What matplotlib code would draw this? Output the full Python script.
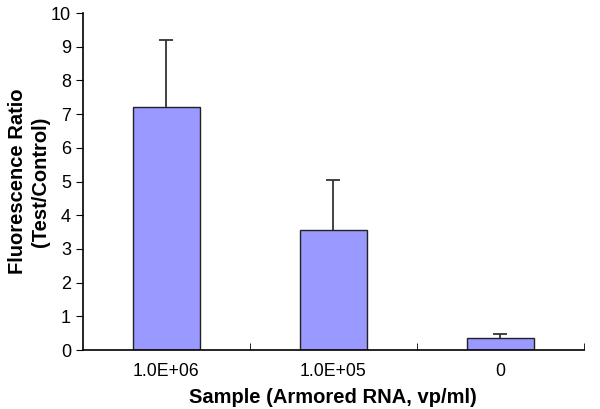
import numpy as np
import matplotlib.pyplot as plt

plt.rcParams['font.family'] = ['Liberation Sans', 'DejaVu Sans']

samples = ['1.0E+06', '1.0E+05', '0']
ratio = [7.22, 3.56, 0.37]
err_up = [1.98, 1.48, 0.11]

fig = plt.figure(figsize=(6, 4.09), dpi=100)
ax = fig.add_axes([0.138, 0.144, 0.835, 0.824])

x = np.arange(len(samples))
bars = ax.bar(x, ratio, width=0.4, color='#9999ff', edgecolor='#222222', linewidth=1,
              yerr=[[0] * len(err_up), err_up], capsize=5,
              error_kw=dict(ecolor='#333333', elinewidth=1.3, capthick=1.3))
# hide the lower caps (error bars go up only)
caps = bars.errorbar.lines[1]
caps[0].set_visible(False)

ax.set_xlim(-0.5, 2.5)
ax.set_ylim(0, 10)
ax.set_yticks(range(0, 11))
ax.set_xticks(x)
ax.set_xticklabels(samples, fontsize=12.7)
ax.tick_params(axis='x', length=0, pad=9)
ax.tick_params(axis='y', labelsize=13, length=5, direction='out')
ax.set_xticks([0.5, 1.5, 2.5], minor=True)
ax.tick_params(axis='x', which='minor', direction='in', length=5)

for s in ['top', 'right']:
    ax.spines[s].set_visible(False)
for s in ['left', 'bottom']:
    ax.spines[s].set_linewidth(1.2)

ax.set_xlabel('Sample (Armored RNA, vp/ml)', fontsize=14.5, fontweight='bold', labelpad=6)
ax.set_ylabel('Fluorescence Ratio\n(Test/Control)', fontsize=14.5, fontweight='bold',
              linespacing=1.25)
ax.yaxis.set_label_coords(-0.066, 0.5)

fig.savefig('out.png', dpi=100)
